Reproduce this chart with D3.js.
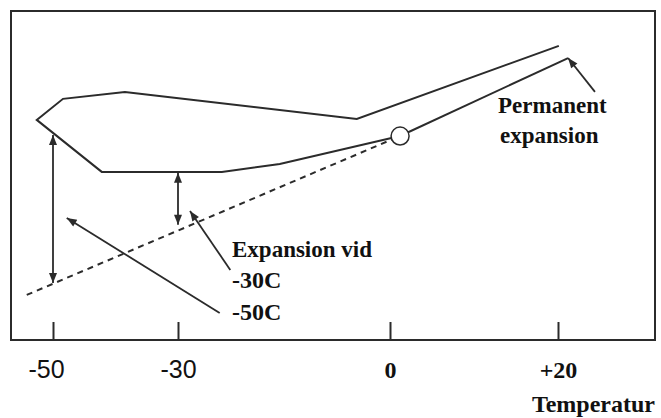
<!DOCTYPE html>
<html>
<head>
<meta charset="utf-8">
<script src="https://cdn.jsdelivr.net/npm/d3@7"></script>
<style>
  body { margin: 0; background: #fff; }
  svg { display: block; }
  .serif { font-family: "Liberation Serif", "DejaVu Serif", "Times New Roman", Times, serif; font-weight: bold; }
  .sans { font-family: "Liberation Sans", Arial, sans-serif; }
</style>
</head>
<body>
<div id="chart"></div>
<script>
// axis ticks (temperature, not evenly spaced in the sketch)
var tickTemps = [-50, -30, 0, 20];
var tickLabels = ["-50", "-30", "0", "+20"];

// cooling from the start point, then heating back up
var cycleTemp = [1.2, -15.6, -23.8, -42.2, -52.6, -48.4, -38.5, -4.7, 20.1];
var cycleExp  = [62.0, 53.5, 51.1, 51.1, 66.9, 73.3, 75.4, 67.2, 89.4];

// line from start point that ends in the permanent expansion arrow
var returnTemp = [1.2, 21.2];
var returnExp  = [62.0, 85.7];

// dashed reference (normal thermal expansion)
var refTemp = [-54.2, 1.2];
var refExp  = [13.7, 62.0];

var startTemp = 1.2, startExp = 62.0;

// double arrows showing expansion at -50 and -30
var gapTemp   = [-50, -30];
var gapTop    = [62.3, 50.8];
var gapBottom = [17.3, 35.0];

// pointer arrows from the labels
var pointerFromTemp = [-24.1, -22.6, 24.4];
var pointerFromExp  = [8.2, 21.3, 75.4];
var pointerToTemp   = [-47.8, -28.3, 21.2];
var pointerToExp    = [37.1, 39.2, 85.7];

var width = 661,
    height = 418;

var frameLeft = 11, frameRight = 655, frameTop = 11, frameBottom = 340;

// piecewise scale, the sketch is not to scale
var x = d3.scaleLinear()
    .domain(tickTemps)
    .range([53, 178, 390, 558]);

var y = d3.scaleLinear()
    .domain([0, 100])
    .range([frameBottom, frameTop]);

var svg = d3.select("#chart").append("svg")
    .attr("width", width)
    .attr("height", height);

var ink = "#2b2b2b";

var defs = svg.append("defs");
defs.append("marker")
    .attr("id", "head")
    .attr("viewBox", "0 0 10 8")
    .attr("refX", 10)
    .attr("refY", 4)
    .attr("markerUnits", "userSpaceOnUse")
    .attr("markerWidth", 11)
    .attr("markerHeight", 8)
    .attr("orient", "auto-start-reverse")
    .append("path")
    .attr("d", "M0,0 L10,4 L0,8 z")
    .attr("fill", ink);

// frame
svg.append("rect")
    .attr("x", frameLeft)
    .attr("y", frameTop)
    .attr("width", frameRight - frameLeft)
    .attr("height", frameBottom - frameTop)
    .attr("fill", "none")
    .attr("stroke", ink)
    .attr("stroke-width", 2);

// x axis: ticks point up into the plot
var axis = svg.append("g")
    .attr("transform", "translate(0," + frameBottom + ")")
    .call(d3.axisBottom(x).tickValues(tickTemps).tickSize(-18).tickFormat(function(d, i) { return tickLabels[i]; }));

axis.attr("font-family", null).attr("font-size", null);
axis.select(".domain").remove();
axis.selectAll(".tick line")
    .attr("stroke", ink)
    .attr("stroke-width", 2);
axis.selectAll(".tick text")
    .attr("y", 38)
    .attr("dy", 0)
    .attr("dx", function(d, i) { return i == 0 ? -7 : 0; })
    .attr("fill", "#111")
    .attr("class", function(d) { return d < 0 ? "sans" : "serif"; })
    .style("font-size", function(d) { return d < 0 ? "25px" : "24px"; });

svg.append("text")
    .attr("class", "serif")
    .attr("x", frameRight)
    .attr("y", 412)
    .attr("text-anchor", "end")
    .attr("fill", "#111")
    .style("font-size", "24px")
    .text("Temperatur");

var line = d3.line()
    .x(function(d) { return x(d[0]); })
    .y(function(d) { return y(d[1]); });

// dashed reference line
svg.append("path")
    .attr("d", line(d3.zip(refTemp, refExp)))
    .attr("fill", "none")
    .attr("stroke", ink)
    .attr("stroke-width", 2)
    .attr("stroke-dasharray", "6,5");

// hysteresis loop
svg.append("path")
    .attr("d", line(d3.zip(cycleTemp, cycleExp)))
    .attr("fill", "none")
    .attr("stroke", ink)
    .attr("stroke-width", 2)
    .attr("stroke-linejoin", "miter");

svg.append("path")
    .attr("d", line(d3.zip(returnTemp, returnExp)))
    .attr("fill", "none")
    .attr("stroke", ink)
    .attr("stroke-width", 2);

// start point
svg.append("circle")
    .attr("cx", x(startTemp))
    .attr("cy", y(startExp))
    .attr("r", 9)
    .attr("fill", "#fff")
    .attr("stroke", ink)
    .attr("stroke-width", 1.5);

// double arrows
for (var i = 0; i < gapTemp.length; i ++){
    svg.append("line")
        .attr("x1", x(gapTemp[i]))
        .attr("y1", y(gapTop[i]))
        .attr("x2", x(gapTemp[i]))
        .attr("y2", y(gapBottom[i]))
        .attr("stroke", ink)
        .attr("stroke-width", 1.8)
        .attr("marker-start", "url(#head)")
        .attr("marker-end", "url(#head)");
}

// pointers
for (var i = 0; i < pointerFromTemp.length; i ++){
    svg.append("line")
        .attr("x1", x(pointerFromTemp[i]))
        .attr("y1", y(pointerFromExp[i]))
        .attr("x2", x(pointerToTemp[i]))
        .attr("y2", y(pointerToExp[i]))
        .attr("stroke", ink)
        .attr("stroke-width", 1.8)
        .attr("marker-end", "url(#head)");
}

// labels
var labels = [
    {t: "Permanent", x: 498, y: 113, size: 23},
    {t: "expansion", x: 500, y: 143, size: 23},
    {t: "Expansion vid", x: 232, y: 257, size: 23},
    {t: "-30C", x: 232, y: 288, size: 24},
    {t: "-50C", x: 232, y: 320, size: 24}
];

svg.selectAll(".lab")
    .data(labels)
    .enter().append("text")
    .attr("class", "lab serif")
    .attr("x", function(d) { return d.x; })
    .attr("y", function(d) { return d.y; })
    .attr("fill", "#111")
    .style("font-size", function(d) { return d.size + "px"; })
    .text(function(d) { return d.t; });
</script>
</body>
</html>
